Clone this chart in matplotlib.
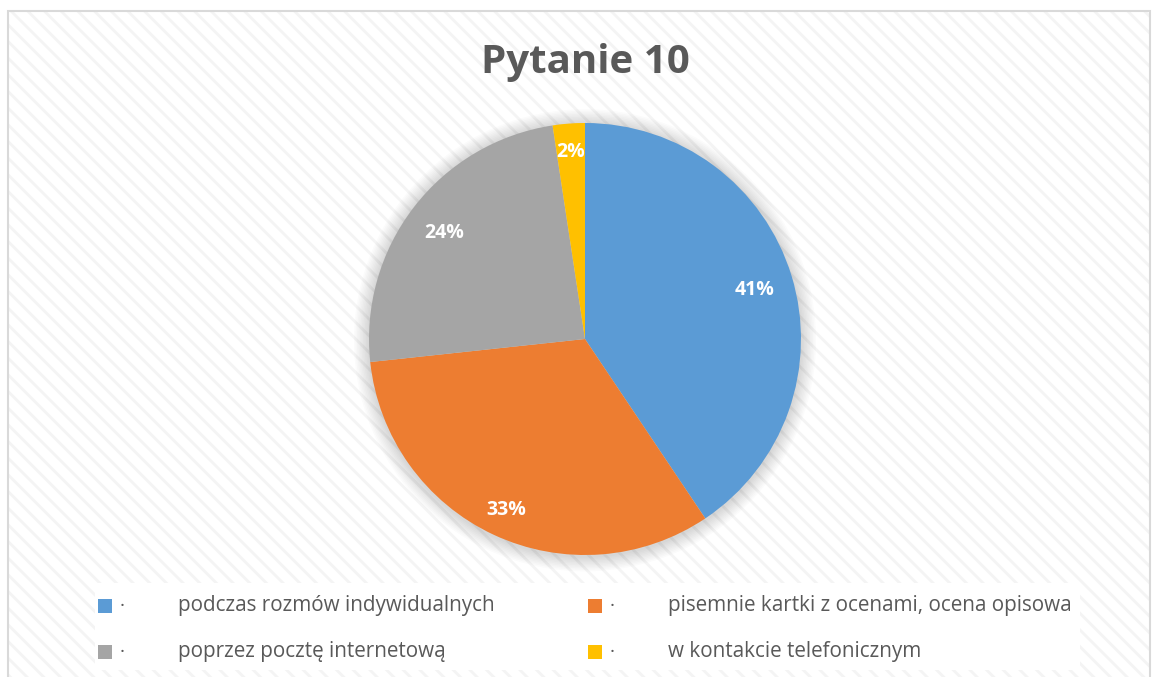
import matplotlib
matplotlib.use("Agg")
import matplotlib.pyplot as plt
from matplotlib.patches import Rectangle, Circle

# data
categories = ["podczas rozmów indywidualnych",
              "pisemnie kartki z ocenami, ocena opisowa",
              "poprzez pocztę internetową",
              "w kontakcie telefonicznym"]
values = [40.6, 32.7, 24.3, 2.4]
pct_labels = ["41%", "33%", "24%", "2%"]
colors = ["#5b9bd5", "#ed7d31", "#a5a5a5", "#ffc000"]

# label spots (x, y) in pie radius units, where excel put them
label_pos = [(0.787, 0.227), (-0.366, -0.792), (-0.653, 0.491), (-0.065, 0.866)]

W, H = 1152, 677
plt.rcParams['font.family'] = ['Open Sans', 'DejaVu Sans']
plt.rcParams['hatch.linewidth'] = 2.0
plt.rcParams['hatch.color'] = '#f4f4f4'

fig = plt.figure(figsize=(W / 100, H / 100), dpi=100)

def fx(px):
    return px / W

def fy(py):
    return 1 - py / H

# striped chart background + frame
bg = Rectangle((fx(8), fy(680)), fx(1150) - fx(8), fy(11) - fy(680),
               transform=fig.transFigure, facecolor='white', hatch='\\\\',
               edgecolor='#f4f4f4', lw=0, zorder=-3)
fig.patches.append(bg)
frame = Rectangle((fx(8), fy(680)), fx(1150) - fx(8), fy(11) - fy(680),
                  transform=fig.transFigure, facecolor='none',
                  edgecolor='#d9d9d9', lw=1.5, zorder=-1)
fig.patches.append(frame)

# pie axes
cx, cy, R = 585, 339, 216
pad = 1.12
side = R * pad
ax = fig.add_axes([fx(cx - side), fy(cy + side), 2 * side / W, 2 * side / H])
ax.set_zorder(2)
ax.patch.set_visible(False)

# soft shadow around the pie
for i in range(10):
    r = 1.0 + 0.007 * (10 - i)
    ax.add_patch(Circle((0, -0.006), r, facecolor='#000000', alpha=0.014,
                        lw=0, zorder=1))

wedges, _ = ax.pie(values, colors=colors, startangle=90, counterclock=False,
                   radius=1.0, wedgeprops=dict(linewidth=0))
for w in wedges:
    w.set_zorder(2)

ax.set_xlim(-pad, pad)
ax.set_ylim(-pad, pad)
ax.set_aspect('equal')
ax.axis('off')

for (x, y), t in zip(label_pos, pct_labels):
    ax.text(x, y, t, ha='center', va='center', color='white',
            fontsize=14, fontweight='bold', zorder=3)

fig.text(fx(585), fy(62), "Pytanie 10", ha='center', va='center',
         fontsize=29, fontweight='bold', color='#595959')

# legend box
lg = Rectangle((fx(95), fy(670)), fx(1080) - fx(95), fy(583) - fy(670),
               transform=fig.transFigure, facecolor='white', lw=0, zorder=-1)
fig.patches.append(lg)

spots = [(98, 606), (588, 606), (98, 652), (588, 652)]
for (px, py), name, c in zip(spots, categories, colors):
    sq = Rectangle((fx(px), fy(py + 7)), 14 / W, 14 / H,
                   transform=fig.transFigure, facecolor=c, lw=0, zorder=1)
    fig.patches.append(sq)
    fig.text(fx(px + 22), fy(py), "·", ha='left', va='center',
             fontsize=14, color='#595959')
    fig.text(fx(px + 80), fy(py), name, ha='left', va='center',
             fontsize=14.9, color='#595959')

fig.savefig("out.png", dpi=100)
